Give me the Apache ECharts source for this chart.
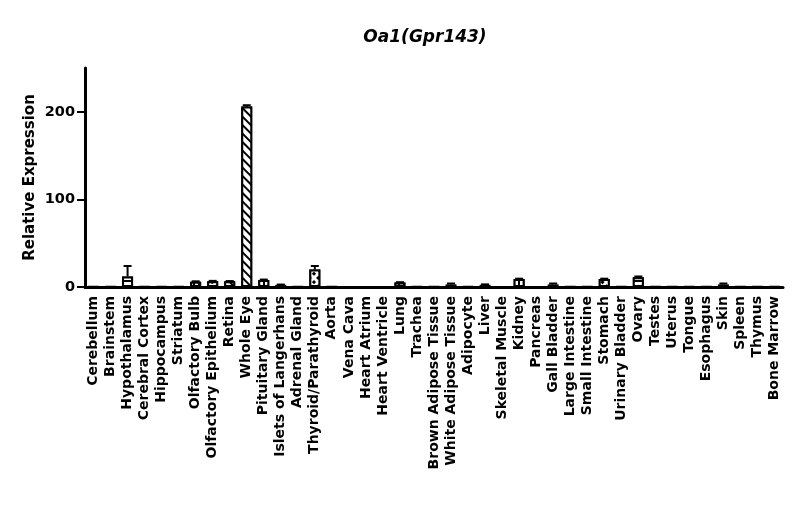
<!DOCTYPE html>
<html>
<head>
<meta charset="utf-8">
<script src="https://cdn.jsdelivr.net/npm/echarts@6/dist/echarts.min.js"></script>
<style>
html,body{margin:0;padding:0;background:#fff;}
#chart{width:800px;height:528px;}
</style>
</head>
<body>
<div id="chart"></div>
<script>
const titleText = 'Oa1(Gpr143)';
const yAxisName = 'Relative Expression';
const yTicks = [0, 100, 200];
const categories = ['Cerebellum','Brainstem','Hypothalamus','Cerebral Cortex','Hippocampus','Striatum','Olfactory Bulb','Olfactory Epithelium','Retina','Whole Eye','Pituitary Gland','Islets of Langerhans','Adrenal Gland','Thyroid/Parathyroid','Aorta','Vena Cava','Heart Atrium','Heart Ventricle','Lung','Trachea','Brown Adipose Tissue','White Adipose Tissue','Adipocyte','Liver','Skeletal Muscle','Kidney','Pancreas','Gall Bladder','Large Intestine','Small Intestine','Stomach','Urinary Bladder','Ovary','Testes','Uterus','Tongue','Esophagus','Skin','Spleen','Thymus','Bone Marrow'];
const values = [0.3,0.3,12,0.3,0.3,0.3,6,6.5,6.5,206,8,2.5,0.5,20,0.3,0.2,0.2,0.2,5,0.3,0.3,3,0.3,2.5,0.2,9,0.2,3,0.3,0.3,9,0.3,11,0.3,0.3,0.3,0.3,3,0.3,0.3,0.3];
const errors = [0,0,12,0,0,0,0.5,0.5,0.3,1.5,0.5,0.3,0,4,0,0,0,0,0.5,0,0,1,0,0.5,0,0.5,0,1,0,0,0.5,0,1,0,0,0,0,1,0,0,0];

const FONT = 'DejaVu Sans';
const decals = {
  diag: {symbol:'rect', symbolSize:1, dashArrayX:[1,0], dashArrayY:[2,4], rotation:Math.PI/4, color:'#000', backgroundColor:'#fff'},
  horiz: {symbol:'rect', symbolSize:1, dashArrayX:[1,0], dashArrayY:[2,3], rotation:0, color:'#000', backgroundColor:'#fff'},
  vert: {symbol:'rect', symbolSize:1, dashArrayX:[1,0], dashArrayY:[2,3], rotation:Math.PI/2, color:'#000', backgroundColor:'#fff'},
  cross: {symbol:'rect', symbolSize:1, dashArrayX:[[3,3]], dashArrayY:[3,3], rotation:Math.PI/4, color:'#000', backgroundColor:'#fff'}
};
const patternOf = {
  'Whole Eye':'diag','Hypothalamus':'horiz','Ovary':'horiz','Olfactory Bulb':'vert','Pituitary Gland':'vert',
  'Kidney':'vert','Lung':'vert','Thyroid/Parathyroid':'cross','Stomach':'cross','Retina':'diag','Olfactory Epithelium':'cross'
};

const barData = values.map((v, i) => {
  const p = patternOf[categories[i]];
  const item = {value: v};
  if (p) item.itemStyle = {decal: decals[p]};
  return item;
});
const errData = values.map((v, i) => [i, v, errors[i]]);

const chart = echarts.init(document.getElementById('chart'), null, {renderer:'canvas'});
chart.setOption({
  animation: false,
  backgroundColor: '#fff',
  title: {
    text: titleText, left: 420, top: 24, textAlign: 'center',
    textStyle: {fontFamily: FONT, fontSize: 17, fontWeight: 'bold', fontStyle: 'italic', color: '#000'}
  },
  grid: {left: 85, right: 17, top: 68, bottom: 241, containLabel: false, outerBoundsMode: 'none'},
  xAxis: {
    type: 'category', data: categories, boundaryGap: true,
    axisLine: {lineStyle: {color: '#000', width: 3}},
    axisTick: {alignWithLabel: true, length: 7, lineStyle: {color: '#000', width: 2}},
    axisLabel: {interval: 0, rotate: 90, margin: 9, color: '#000', fontFamily: FONT, fontSize: 14, fontWeight: 'bold'},
    splitLine: {show: false}
  },
  yAxis: {
    type: 'value', min: 0, max: 250, interval: 50,
    name: yAxisName, nameLocation: 'middle', nameRotate: 90, nameGap: 47, nameMoveOverlap: false,
    nameTextStyle: {fontFamily: FONT, fontSize: 15, fontWeight: 'bold', color: '#000'},
    axisLine: {show: true, lineStyle: {color: '#000', width: 3}},
    axisTick: {show: true, length: 8, customValues: yTicks, lineStyle: {color: '#000', width: 2}},
    axisLabel: {customValues: yTicks, margin: 10, color: '#000', fontFamily: FONT, fontSize: 14.5, fontWeight: 'bold'},
    splitLine: {show: false}
  },
  series: [
    {
      type: 'bar', data: barData, barWidth: 11,
      itemStyle: {color: '#fff', borderColor: '#000', borderWidth: 2},
      z: 2
    },
    {
      type: 'custom', data: errData, z: 3,
      encode: {x: 0, y: 1},
      renderItem: function (params, api) {
        const i = api.value(0), v = api.value(1), e = api.value(2);
        if (!e) return null;
        const base = api.coord([i, v]);
        const top = api.coord([i, v + e]);
        const hw = 4;
        return {
          type: 'group',
          children: [
            {type: 'line', shape: {x1: base[0], y1: base[1], x2: top[0], y2: top[1]}, style: {stroke: '#000', lineWidth: 2}},
            {type: 'line', shape: {x1: top[0] - hw, y1: top[1], x2: top[0] + hw, y2: top[1]}, style: {stroke: '#000', lineWidth: 2}}
          ]
        };
      }
    }
  ]
});
</script>
</body>
</html>
